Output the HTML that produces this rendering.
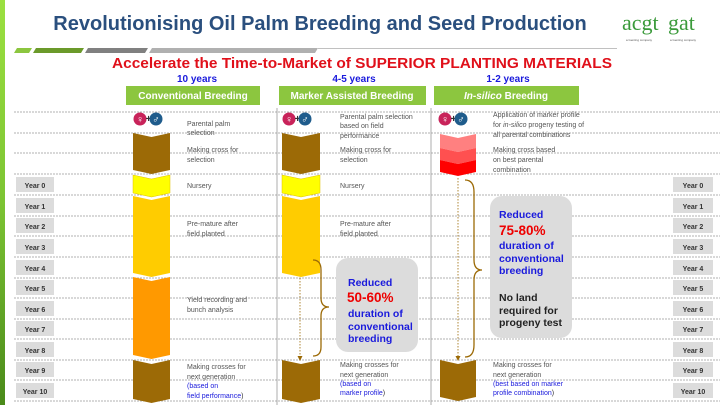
<!DOCTYPE html>
<html><head><meta charset="utf-8"><style>
html,body{margin:0;padding:0;background:#fff;}
svg{display:block;font-family:"Liberation Sans",sans-serif;}
.t{font-size:7px;fill:#555;}
.b{font-size:7px;fill:#1a1adc;}
.yl{font-size:7px;font-weight:bold;fill:#333;}
.bb{font-size:10.5px;font-weight:bold;fill:#1a1adc;}
.bk{font-size:10.5px;font-weight:bold;fill:#222;}
.rd{font-size:13.5px;font-weight:bold;fill:#e00;}
</style></head><body>
<svg width="720" height="405" viewBox="0 0 720 405" xmlns="http://www.w3.org/2000/svg">
<defs><linearGradient id="lg" x1="0" y1="0" x2="0" y2="1"><stop offset="0" stop-color="#9be040"/><stop offset="0.5" stop-color="#7cc433"/><stop offset="1" stop-color="#4a8a1a"/></linearGradient></defs>
<rect x="0" y="0" width="5" height="405" fill="url(#lg)"/>
<text x="320" y="30" text-anchor="middle" font-size="20" font-weight="bold" fill="#2a4f7e">Revolutionising Oil Palm Breeding and Seed Production</text>
<text x="622" y="30" font-family="Liberation Serif" font-size="22" fill="#3a9a3a">acgt</text>
<text x="668" y="30" font-family="Liberation Serif" font-size="22" fill="#3a9a3a">gat</text>
<text x="626" y="41" font-size="3" fill="#555">a Genting company</text>
<text x="670" y="41" font-size="3" fill="#555">a Genting company</text>
<polygon points="14,53 17,48 32,48 29,53" fill="#8cc63f"/>
<polygon points="33,53 36,48 84,48 81,53" fill="#6b9a2a"/>
<polygon points="85,53 88,48 148,48 145,53" fill="#808080"/>
<polygon points="149,53 152,48 318,48 315,53" fill="#b0b0b0"/>
<line x1="318" y1="48.5" x2="617" y2="48.5" stroke="#c0c0c0" stroke-width="1"/>
<text x="362" y="68" text-anchor="middle" font-size="14.5" font-weight="bold" fill="#e0101a" textLength="500" lengthAdjust="spacingAndGlyphs">Accelerate the Time-to-Market of SUPERIOR PLANTING MATERIALS</text>
<text x="197" y="82" text-anchor="middle" font-size="10" font-weight="bold" fill="#1a1adc">10 years</text>
<text x="354" y="82" text-anchor="middle" font-size="10" font-weight="bold" fill="#1a1adc">4-5 years</text>
<text x="508" y="82" text-anchor="middle" font-size="10" font-weight="bold" fill="#1a1adc">1-2 years</text>
<line x1="277" y1="108" x2="277" y2="405" stroke="#999" stroke-width="0.8"/>
<line x1="431" y1="108" x2="431" y2="405" stroke="#999" stroke-width="0.8"/>
<rect x="126" y="86" width="134" height="19" fill="#8cc63f"/>
<rect x="279" y="86" width="147" height="19" fill="#8cc63f"/>
<rect x="434" y="86" width="145" height="19" fill="#8cc63f"/>
<text x="193" y="99" text-anchor="middle" font-size="10" font-weight="bold" fill="#fff">Conventional Breeding</text>
<text x="352" y="99" text-anchor="middle" font-size="10" font-weight="bold" fill="#fff">Marker Assisted Breeding</text>
<text x="506" y="99" text-anchor="middle" font-size="10" font-weight="bold" fill="#fff"><tspan font-style="italic">In-silico</tspan> Breeding</text>
<g stroke="#999" stroke-width="0.7" stroke-dasharray="2,1">
<line x1="14" y1="112" x2="720" y2="112"/><line x1="14" y1="133" x2="720" y2="133"/><line x1="14" y1="153" x2="720" y2="153"/>
<line x1="14" y1="174" x2="720" y2="174"/><line x1="14" y1="195" x2="720" y2="195"/><line x1="14" y1="216" x2="720" y2="216"/>
<line x1="14" y1="236" x2="720" y2="236"/><line x1="14" y1="257" x2="720" y2="257"/><line x1="14" y1="278" x2="720" y2="278"/>
<line x1="14" y1="298" x2="720" y2="298"/><line x1="14" y1="319" x2="720" y2="319"/><line x1="14" y1="339" x2="720" y2="339"/>
<line x1="14" y1="360" x2="720" y2="360"/><line x1="14" y1="380" x2="720" y2="380"/><line x1="14" y1="401" x2="720" y2="401"/>
</g>
<g fill="#dcdcdc">
<rect x="16" y="177" width="38" height="15"/><rect x="16" y="198" width="38" height="15"/><rect x="16" y="218" width="38" height="15"/><rect x="16" y="239" width="38" height="15"/><rect x="16" y="260" width="38" height="15"/><rect x="16" y="280" width="38" height="15"/><rect x="16" y="301" width="38" height="15"/><rect x="16" y="321" width="38" height="15"/><rect x="16" y="342" width="38" height="15"/><rect x="16" y="362" width="38" height="15"/><rect x="16" y="383" width="38" height="15"/>
<rect x="673" y="177" width="40" height="15"/><rect x="673" y="198" width="40" height="15"/><rect x="673" y="218" width="40" height="15"/><rect x="673" y="239" width="40" height="15"/><rect x="673" y="260" width="40" height="15"/><rect x="673" y="280" width="40" height="15"/><rect x="673" y="301" width="40" height="15"/><rect x="673" y="321" width="40" height="15"/><rect x="673" y="342" width="40" height="15"/><rect x="673" y="362" width="40" height="15"/><rect x="673" y="383" width="40" height="15"/>
</g>
<g class="yl" text-anchor="middle">
<text x="35" y="188">Year 0</text><text x="35" y="209">Year 1</text><text x="35" y="229">Year 2</text><text x="35" y="250">Year 3</text><text x="35" y="271">Year 4</text><text x="35" y="291">Year 5</text><text x="35" y="312">Year 6</text><text x="35" y="332">Year 7</text><text x="35" y="353">Year 8</text><text x="35" y="373">Year 9</text><text x="35" y="394">Year 10</text>
<text x="693" y="188">Year 0</text><text x="693" y="209">Year 1</text><text x="693" y="229">Year 2</text><text x="693" y="250">Year 3</text><text x="693" y="271">Year 4</text><text x="693" y="291">Year 5</text><text x="693" y="312">Year 6</text><text x="693" y="332">Year 7</text><text x="693" y="353">Year 8</text><text x="693" y="373">Year 9</text><text x="693" y="394">Year 10</text>
</g>
<polygon points="133,133 151.5,137 170,133 170,170 151.5,174 133,170" fill="#9c6a06"/>
<polygon points="133,175 151.5,179 170,175 170,193 151.5,197 133,193" fill="#ffff00" stroke="#e0c000" stroke-width="0.5"/>
<polygon points="133,196 151.5,200 170,196 170,273 151.5,277 133,273" fill="#ffcc00"/>
<polygon points="133,277 151.5,281 170,277 170,355 151.5,359 133,355" fill="#ff9900"/>
<polygon points="133,360 151.5,364 170,360 170,399 151.5,403 133,399" fill="#9c6a06"/>
<polygon points="282,133 301,137 320,133 320,170 301,174 282,170" fill="#9c6a06"/>
<polygon points="282,175 301,179 320,175 320,193 301,197 282,193" fill="#ffff00" stroke="#e0c000" stroke-width="0.5"/>
<polygon points="282,196 301,200 320,196 320,273 301,277 282,273" fill="#ffcc00"/>
<polygon points="282,360 301,364 320,360 320,399 301,403 282,399" fill="#9c6a06"/>
<polygon points="440,134 458,138 476,134 476,148 458,152 440,148" fill="#ff8080"/>
<polygon points="440,148 458,152 476,148 476,160 458,164 440,160" fill="#ff5050"/>
<polygon points="440,160 458,164 476,160 476,172 458,176 440,172" fill="#ff0000"/>
<polygon points="440,360 458,364 476,360 476,397 458,401 440,397" fill="#9c6a06"/>
<g font-size="10" font-weight="bold" text-anchor="middle">
<circle cx="140" cy="119" r="6.5" fill="#c8235a"/><text x="140" y="122.5" fill="#fff">♀</text><text x="148.5" y="122" fill="#333">+</text><circle cx="156" cy="119" r="6.5" fill="#1f5c8c"/><text x="156" y="122.5" fill="#fff">♂</text>
<circle cx="289" cy="119" r="6.5" fill="#c8235a"/><text x="289" y="122.5" fill="#fff">♀</text><text x="297.5" y="122" fill="#333">+</text><circle cx="305" cy="119" r="6.5" fill="#1f5c8c"/><text x="305" y="122.5" fill="#fff">♂</text>
<circle cx="445" cy="119" r="6.5" fill="#c8235a"/><text x="445" y="122.5" fill="#fff">♀</text><text x="453.5" y="122" fill="#333">+</text><circle cx="461" cy="119" r="6.5" fill="#1f5c8c"/><text x="461" y="122.5" fill="#fff">♂</text>
</g>
<text class="t" x="187" y="126">Parental palm</text><text class="t" x="187" y="135">selection</text>
<text class="t" x="187" y="152">Making cross for</text><text class="t" x="187" y="162">selection</text>
<text class="t" x="187" y="188">Nursery</text>
<text class="t" x="187" y="226">Pre-mature after</text><text class="t" x="187" y="236">field planted</text>
<text class="t" x="187" y="302">Yield recording and</text><text class="t" x="187" y="312">bunch analysis</text>
<text class="t" x="187" y="369">Making crosses for</text><text class="t" x="187" y="379">next generation</text>
<text class="b" x="187" y="388">(based on</text><text class="b" x="187" y="398">field performance<tspan fill="#333">)</tspan></text>
<text class="t" x="340" y="119">Parental palm selection</text><text class="t" x="340" y="128">based on field</text><text class="t" x="340" y="138">performance</text>
<text class="t" x="340" y="152">Making cross for</text><text class="t" x="340" y="162">selection</text>
<text class="t" x="340" y="188">Nursery</text>
<text class="t" x="340" y="226">Pre-mature after</text><text class="t" x="340" y="236">field planted</text>
<text class="t" x="340" y="367">Making crosses for</text><text class="t" x="340" y="377">next generation</text>
<text class="b" x="340" y="386">(based on</text><text class="b" x="340" y="395">marker profile<tspan fill="#333">)</tspan></text>
<text class="t" x="493" y="117">Application of marker profile</text><text class="t" x="493" y="127">for <tspan font-style="italic">in-silico</tspan> progeny testing of</text><text class="t" x="493" y="137">all parental combinations</text>
<text class="t" x="493" y="152">Making cross based</text><text class="t" x="493" y="162">on best parental</text><text class="t" x="493" y="172">combination</text>
<text class="t" x="493" y="367">Making crosses for</text><text class="t" x="493" y="377">next generation</text>
<text class="b" x="493" y="386">(best based on marker</text><text class="b" x="493" y="395">profile combination<tspan fill="#333">)</tspan></text>
<line x1="300" y1="278" x2="300" y2="358" stroke="#9c6a06" stroke-width="0.8" stroke-dasharray="1.5,1.5"/>
<polygon points="297.5,356 302.5,356 300,361" fill="#9c6a06"/>
<line x1="458" y1="178" x2="458" y2="358" stroke="#9c6a06" stroke-width="0.8" stroke-dasharray="1.5,1.5"/>
<polygon points="455.5,356 460.5,356 458,361" fill="#9c6a06"/>
<path d="M313,260 Q321,260 321,270 L321,298 Q321,307 329,307 Q321,307 321,316 L321,347 Q321,356 313,356" fill="none" stroke="#9c6a06" stroke-width="1.3"/>
<path d="M465,180 Q474,180 474,192 L474,260 Q474,270 482,270 Q474,270 474,280 L474,345 Q474,357 465,357" fill="none" stroke="#9c6a06" stroke-width="1.3"/>
<rect x="336" y="258" width="82" height="94" rx="12" fill="#dcdcdc"/>
<text class="bb" x="348" y="286">Reduced</text>
<text class="rd" x="347" y="302">50-60%</text>
<text class="bb" x="348" y="317">duration of</text>
<text class="bb" x="348" y="330">conventional</text>
<text class="bb" x="348" y="342">breeding</text>
<rect x="490" y="196" width="82" height="142" rx="12" fill="#dcdcdc"/>
<text class="bb" x="499" y="218">Reduced</text>
<text class="rd" x="499" y="235">75-80%</text>
<text class="bb" x="499" y="249">duration of</text>
<text class="bb" x="499" y="262">conventional</text>
<text class="bb" x="499" y="274">breeding</text>
<text class="bk" x="499" y="301">No land</text>
<text class="bk" x="499" y="314">required for</text>
<text class="bk" x="499" y="326">progeny test</text>
</svg>
</body></html>
